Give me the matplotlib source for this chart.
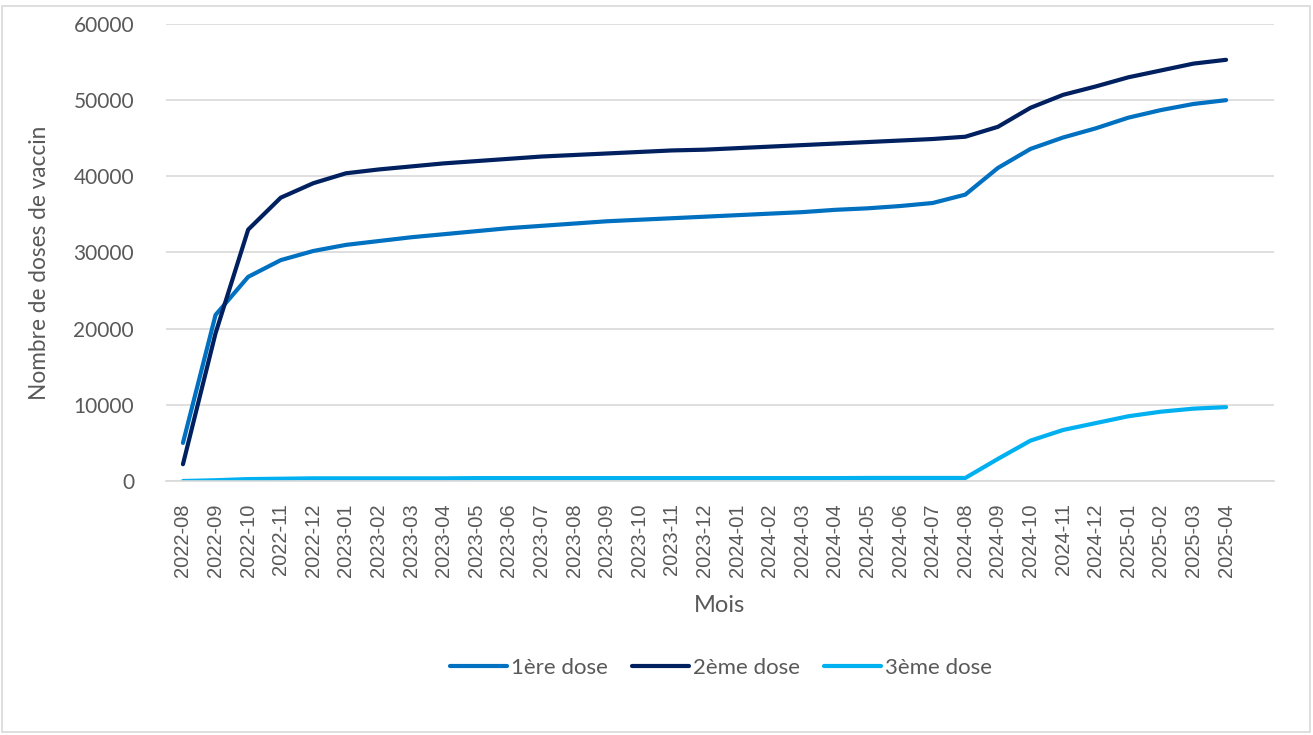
import matplotlib.pyplot as plt
import numpy as np

mois = ['2022-08', '2022-09', '2022-10', '2022-11', '2022-12',
        '2023-01', '2023-02', '2023-03', '2023-04', '2023-05', '2023-06',
        '2023-07', '2023-08', '2023-09', '2023-10', '2023-11', '2023-12',
        '2024-01', '2024-02', '2024-03', '2024-04', '2024-05', '2024-06',
        '2024-07', '2024-08', '2024-09', '2024-10', '2024-11', '2024-12',
        '2025-01', '2025-02', '2025-03', '2025-04']

dose1 = [5000, 21800, 26800, 29000, 30200,
         31000, 31500, 32000, 32400, 32800, 33200,
         33500, 33800, 34100, 34300, 34500, 34700,
         34900, 35100, 35300, 35600, 35800, 36100,
         36500, 37600, 41100, 43600, 45100, 46300,
         47700, 48700, 49500, 50000]

dose2 = [2200, 19400, 33000, 37200, 39100,
         40400, 40900, 41300, 41700, 42000, 42300,
         42600, 42800, 43000, 43200, 43400, 43500,
         43700, 43900, 44100, 44300, 44500, 44700,
         44900, 45200, 46500, 49000, 50700, 51800,
         53000, 53900, 54800, 55300]

dose3 = [0, 100, 250, 300, 350,
         350, 350, 350, 350, 380, 380,
         380, 380, 380, 380, 380, 380,
         380, 380, 380, 380, 400, 400,
         400, 400, 2900, 5300, 6700, 7600,
         8500, 9100, 9500, 9700]

gris = '#595959'
plt.rcParams['font.family'] = ['Lato', 'DejaVu Sans']

fig = plt.figure(figsize=(13.13, 7.35), dpi=100)
ax = fig.add_axes([166/1313, 1-481/735, (1274-166)/1313, (481-24)/735])

x = np.arange(len(mois))
l1, = ax.plot(x, dose1, color='#0070C0', lw=3, solid_capstyle='round', label='1ère dose')
l2, = ax.plot(x, dose2, color='#002060', lw=3, solid_capstyle='round', label='2ème dose')
l3, = ax.plot(x, dose3, color='#00B0F0', lw=3, solid_capstyle='round', label='3ème dose')

ax.set_ylim(0, 60000)
ax.set_yticks(range(0, 60001, 10000))
ax.set_xlim(-0.52, 33.47)
ax.set_xticks(x)
ax.set_xticklabels(mois, rotation=90, fontsize=14.5, color=gris, family='Liberation Sans')
ax.tick_params(axis='y', labelsize=15, colors=gris, length=0, pad=23)
ax.tick_params(axis='x', length=0, pad=16)
ax.grid(axis='y', color='#d9d9d9', lw=1.2)
ax.set_axisbelow(True)
for s in ['top', 'right', 'left']:
    ax.spines[s].set_visible(False)
ax.spines['bottom'].set_color('#d9d9d9')
ax.spines['bottom'].set_linewidth(1.2)

fig.text(40/1313, 1-263/735, 'Nombre de doses de vaccin', fontsize=16.3, color=gris,
         rotation=90, ha='center', va='center')
fig.text(720/1313, 1-605/735, 'Mois', fontsize=17, color=gris, ha='center', va='center')

fig.legend(handles=[l1, l2, l3], loc='center', bbox_to_anchor=(721/1313, 1-668/735),
           ncol=3, frameon=False, fontsize=16, handlelength=2.55, handletextpad=0.18,
           columnspacing=1.1, labelcolor=gris)

fig.patches.append(plt.Rectangle((2/1313, 3/735), 1308/1313, 726/735, transform=fig.transFigure,
                                 fill=False, edgecolor='#d9d9d9', lw=1.2))

fig.savefig('out.png', dpi=100)
